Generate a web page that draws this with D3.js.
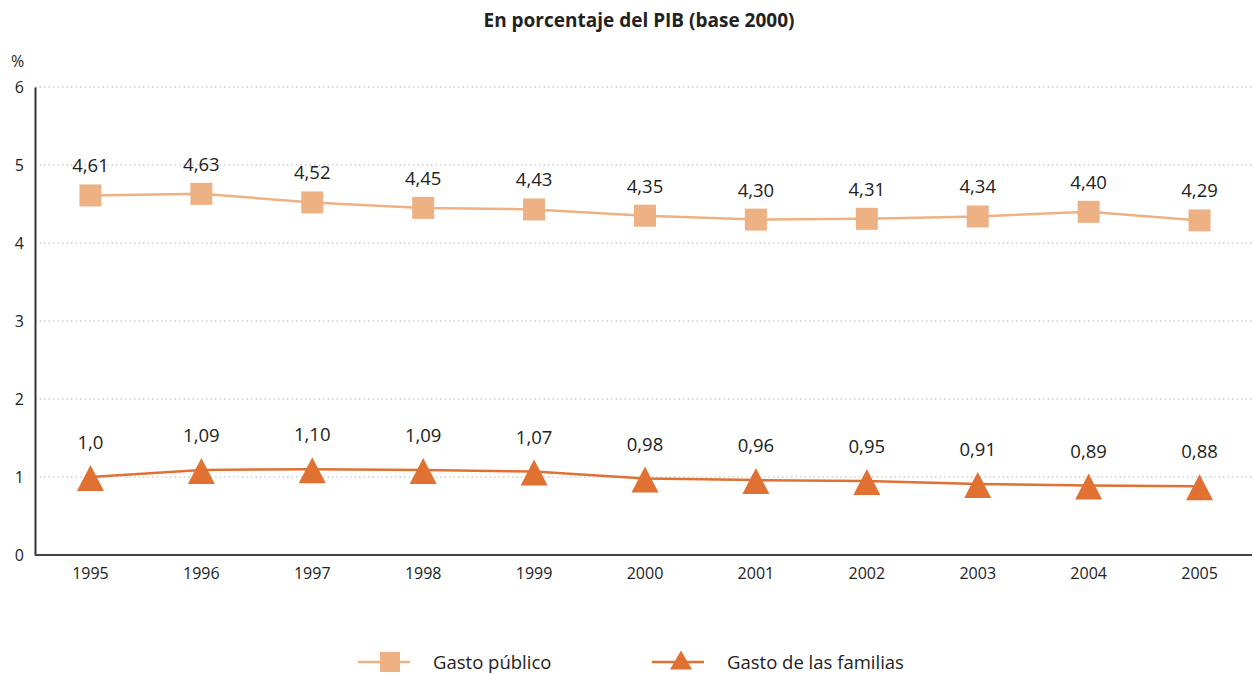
<!DOCTYPE html>
<html>
<head>
<meta charset="utf-8">
<script src="https://cdn.jsdelivr.net/npm/d3@7"></script>
<style>
  body { margin: 0; background: #fff; }
  svg text { font-family: "Open Sans", "Noto Sans", sans-serif; fill: #222; }
</style>
</head>
<body>
<div id="chart"></div>
<script>
var years = ["1995", "1996", "1997", "1998", "1999", "2000", "2001", "2002", "2003", "2004", "2005"];
var gastoPublico = [4.61, 4.63, 4.52, 4.45, 4.43, 4.35, 4.30, 4.31, 4.34, 4.40, 4.29];
var gastoFamilias = [1.0, 1.09, 1.10, 1.09, 1.07, 0.98, 0.96, 0.95, 0.91, 0.89, 0.88];
var publicoLabels = ["4,61", "4,63", "4,52", "4,45", "4,43", "4,35", "4,30", "4,31", "4,34", "4,40", "4,29"];
var familiasLabels = ["1,0", "1,09", "1,10", "1,09", "1,07", "0,98", "0,96", "0,95", "0,91", "0,89", "0,88"];
var yTicks = [0, 1, 2, 3, 4, 5, 6];

var width = 1252, height = 674;
var plotLeft = 35, plotRight = 1255, plotTop = 87, plotBottom = 555;

var svg = d3.select("#chart").append("svg")
    .attr("width", width)
    .attr("height", height);

var x = d3.scaleBand().domain(years).range([plotLeft, plotRight]);
var y = d3.scaleLinear().domain([0, 6]).range([plotBottom, plotTop]);
var cx = function(d) { return x(d) + x.bandwidth() / 2; };

var colPublico = "#edb183", colFamilias = "#e07133";

// title
svg.append("text")
    .attr("x", 639).attr("y", 27)
    .attr("text-anchor", "middle")
    .style("font-size", "19px").style("font-weight", "bold")
    .text("En porcentaje del PIB (base 2000)");

svg.append("text").attr("x", 11).attr("y", 67).style("font-size", "16px").text("%");

// gridlines
svg.append("g").selectAll("line")
  .data(yTicks.filter(function(d) { return d > 0; }))
  .join("line")
    .attr("x1", plotLeft).attr("x2", width)
    .attr("y1", function(d) { return y(d); })
    .attr("y2", function(d) { return y(d); })
    .attr("stroke", "#b5b5b5")
    .attr("stroke-width", 1.2)
    .attr("stroke-dasharray", "1.5,3");

// y axis
var yAxis = svg.append("g")
    .attr("transform", "translate(" + plotLeft + ",0)")
    .call(d3.axisLeft(y).tickValues(yTicks).tickFormat(d3.format("d")).tickSize(0).tickPadding(11));
yAxis.select(".domain").attr("stroke", "#333").attr("stroke-width", 2);
yAxis.selectAll("text").style("font-size", "16px").style("font-family", "'Open Sans', sans-serif").attr("fill", "#222");

// x axis
var xAxis = svg.append("g")
    .attr("transform", "translate(0," + plotBottom + ")")
    .call(d3.axisBottom(x).tickSize(0).tickPadding(13));
xAxis.select(".domain").remove();
xAxis.selectAll("text").style("font-size", "16px").style("font-family", "'Open Sans', sans-serif").attr("fill", "#222");
svg.append("line")
    .attr("x1", plotLeft).attr("x2", width)
    .attr("y1", plotBottom).attr("y2", plotBottom)
    .attr("stroke", "#444").attr("stroke-width", 2);

var line = d3.line()
    .x(function(d, i) { return cx(years[i]); })
    .y(function(d) { return y(d); });

// triangle marker, apex up
function triangle(w, h) {
  return "M0," + (-h / 2) + "L" + (w / 2) + "," + (h / 2) + "L" + (-w / 2) + "," + (h / 2) + "Z";
}

// public series
svg.append("path").datum(gastoPublico)
    .attr("d", line).attr("fill", "none")
    .attr("stroke", colPublico).attr("stroke-width", 2.5);
svg.append("g").selectAll("rect")
  .data(gastoPublico)
  .join("rect")
    .attr("x", function(d, i) { return cx(years[i]) - 11; })
    .attr("y", function(d) { return y(d) - 11; })
    .attr("width", 22).attr("height", 22)
    .attr("fill", colPublico);
svg.append("g").selectAll("text")
  .data(gastoPublico)
  .join("text")
    .attr("x", function(d, i) { return cx(years[i]); })
    .attr("y", function(d) { return y(d) - 23; })
    .attr("text-anchor", "middle")
    .style("font-size", "18.5px")
    .text(function(d, i) { return publicoLabels[i]; });

// family series
svg.append("path").datum(gastoFamilias)
    .attr("d", line).attr("fill", "none")
    .attr("stroke", colFamilias).attr("stroke-width", 2.5);
svg.append("g").selectAll("path")
  .data(gastoFamilias)
  .join("path")
    .attr("d", triangle(27, 26))
    .attr("transform", function(d, i) { return "translate(" + cx(years[i]) + "," + (y(d) + 1) + ")"; })
    .attr("fill", colFamilias);
svg.append("g").selectAll("text")
  .data(gastoFamilias)
  .join("text")
    .attr("x", function(d, i) { return cx(years[i]); })
    .attr("y", function(d) { return y(d) - 28; })
    .attr("text-anchor", "middle")
    .style("font-size", "18.5px")
    .text(function(d, i) { return familiasLabels[i]; });

// legend
var legend = [
  { name: "Gasto público", color: colPublico, shape: "square", x: 358 },
  { name: "Gasto de las familias", color: colFamilias, shape: "triangle", x: 652 }
];
var lg = svg.append("g").selectAll("g").data(legend).join("g")
    .attr("transform", function(d) { return "translate(" + d.x + ",662)"; });
lg.append("line").attr("x1", 0).attr("x2", 52).attr("y1", 0).attr("y2", 0)
    .attr("stroke", function(d) { return d.color; }).attr("stroke-width", 2.5);
lg.each(function(d) {
  var g = d3.select(this);
  if (d.shape === "square") {
    g.append("rect").attr("x", 22).attr("y", -10).attr("width", 20).attr("height", 20).attr("fill", d.color);
  } else {
    g.append("path").attr("d", triangle(22, 19))
      .attr("transform", "translate(29,-2)").attr("fill", d.color);
  }
});
lg.append("text").attr("x", 75).attr("y", 7)
    .style("font-size", "18.5px")
    .text(function(d) { return d.name; });
</script>
</body>
</html>
